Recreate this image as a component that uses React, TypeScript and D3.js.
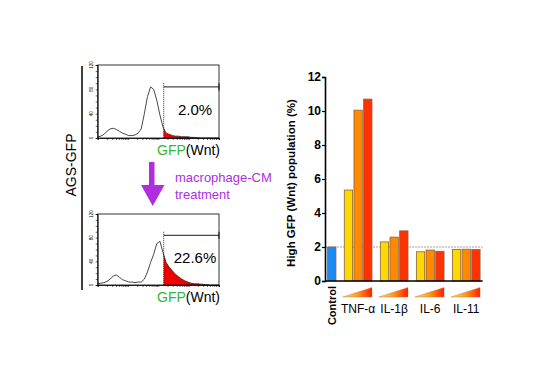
import { useEffect, useRef } from "react";
import * as d3 from "d3";

// flow histograms (count per log-spaced bin, 0-120 scale)
const hist1Counts = [
  2, 3, 6, 11, 15, 16, 14, 11, 8, 6, 4, 4, 5, 8, 15, 40, 68, 84, 80, 62,
  38, 18, 8, 6, 4, 3, 3, 2, 2, 2, 1, 1, 0.5, 0, 0, 0, 0, 0, 0, 0,
];
const hist2Counts = [
  2, 3, 4, 6, 10, 15, 17, 13, 9, 7, 5, 5, 4, 5, 5, 10, 22, 38, 52, 70,
  74, 55, 38, 30, 24, 18, 14, 10, 7, 5, 3, 2, 2, 1.5, 1, 0.5, 0, 0, 0, 0,
];
const histPercents = ["2.0%", "22.6%"];
const gateStart = 150;
const histTicks = [0, 40, 80, 120];

// bar chart
const treatments = ["TNF-α", "IL-1β", "IL-6", "IL-11"];
const controlValue = 2.0;
const doseLow = [5.35, 2.3, 1.72, 1.85];
const doseMid = [10.05, 2.58, 1.82, 1.87];
const doseHigh = [10.7, 2.95, 1.75, 1.85];
const doseColors = ["#ffd800", "#ff8a00", "#ff3300"];
const controlColor = "#1a8cf0";
const yTicks = [0, 2, 4, 6, 8, 10, 12];
const baselineLevel = 2;

const FONT = "Liberation Sans, Arial, sans-serif";
const PURPLE = "#b02ee0";

export default function App() {
  const svgRef = useRef<SVGSVGElement>(null);

  useEffect(() => {
    if (!svgRef.current) return;
    const svg = d3.select(svgRef.current);
    svg.selectAll("*").remove();
    svg.style("font-family", FONT);

    const defs = svg.append("defs");

    // ---------- left panel ----------
    svg.append("line")
      .attr("x1", 82).attr("x2", 82).attr("y1", 66).attr("y2", 290)
      .attr("stroke", "#000").attr("stroke-width", 1.5);

    svg.append("text")
      .attr("transform", "translate(76,165) rotate(-90)")
      .attr("text-anchor", "middle")
      .style("font-size", "14px")
      .text("AGS-GFP");

    const drawHist = (counts: number[], top: number, bottom: number, pct: string, idx: number) => {
      const x = d3.scaleLog().domain([1, 1e4]).range([97.7, 219]);
      const y = d3.scaleLinear().domain([0, 120]).range([bottom, top]);
      const g = svg.append("g");
      const n = counts.length;
      const pts = counts.map((c, i) => [Math.pow(10, (4 * i) / (n - 1)), c] as [number, number]);

      const clipId = `gate-clip-${idx}`;
      defs.append("clipPath").attr("id", clipId)
        .append("rect")
        .attr("x", x(gateStart)).attr("y", top - 5)
        .attr("width", 219 - x(gateStart)).attr("height", bottom - top + 5);

      const area = d3.area<[number, number]>()
        .x((d) => x(d[0])).y0(y(0)).y1((d) => y(d[1]));
      g.append("path")
        .attr("d", area(pts) as string)
        .attr("fill", "#ee0000")
        .attr("clip-path", `url(#${clipId})`);

      const line = d3.line<[number, number]>().x((d) => x(d[0])).y((d) => y(d[1]));
      g.append("path")
        .attr("d", line(pts) as string)
        .attr("fill", "none").attr("stroke", "#333").attr("stroke-width", 0.9);

      // box
      g.append("rect")
        .attr("x", x(1)).attr("y", y(120))
        .attr("width", x(1e4) - x(1)).attr("height", y(0) - y(120))
        .attr("fill", "none").attr("stroke", "#000").attr("stroke-width", 0.8);

      // axes
      const xAxis = g.append("g")
        .attr("transform", `translate(0,${y(0)})`)
        .call(d3.axisBottom(x).tickSize(2).tickFormat(() => ""));
      xAxis.select(".domain").attr("stroke-width", 0.8);
      xAxis.selectAll(".tick line").attr("stroke-width", 0.6);

      const yAxis = g.append("g")
        .attr("transform", `translate(${x(1)},0)`)
        .call(d3.axisLeft(y).tickValues(d3.range(0, 121, 10)).tickSize(2).tickFormat(() => ""));
      yAxis.select(".domain").attr("stroke-width", 0.8);
      yAxis.selectAll(".tick line").attr("stroke-width", 0.6);

      g.selectAll(".ylab")
        .data(histTicks)
        .enter().append("text")
        .attr("transform", (d) => `translate(${x(1) - 5},${y(d)}) rotate(-90)`)
        .attr("text-anchor", "middle")
        .style("font-size", "4.5px")
        .text((d) => d);

      // gate
      const gx = x(gateStart);
      g.append("line")
        .attr("x1", gx).attr("x2", gx).attr("y1", y(90)).attr("y2", y(0))
        .attr("stroke", "#000").attr("stroke-width", 0.8).attr("stroke-dasharray", "1,1");
      g.append("line")
        .attr("x1", gx).attr("x2", x(1e4)).attr("y1", y(84)).attr("y2", y(84))
        .attr("stroke", "#000").attr("stroke-width", 0.9);
      g.append("line")
        .attr("x1", x(1e4)).attr("x2", x(1e4)).attr("y1", y(90)).attr("y2", y(78))
        .attr("stroke", "#000").attr("stroke-width", 0.9);

      g.append("text")
        .attr("x", 195).attr("y", y(84) + 28)
        .attr("text-anchor", "middle")
        .style("font-size", "15px")
        .text(pct);

      const lab = g.append("text")
        .attr("x", 220).attr("y", bottom + 17)
        .attr("text-anchor", "end")
        .style("font-size", "14px");
      lab.append("tspan").attr("fill", "#33b833").text("GFP");
      lab.append("tspan").attr("fill", "#000").text("(Wnt)");
    };

    drawHist(hist1Counts, 65, 138, histPercents[0], 0);
    drawHist(hist2Counts, 214, 285, histPercents[1], 1);

    // arrow
    svg.append("path")
      .attr("d", "M149,162 L154.5,162 L154.5,185 L164.5,185 L152.7,206 L141,185 L149,185 Z")
      .attr("fill", PURPLE);
    const tx = svg.append("text").attr("fill", PURPLE).style("font-size", "13px");
    tx.append("tspan").attr("x", 175).attr("y", 181.5).text("macrophage-CM");
    tx.append("tspan").attr("x", 175).attr("y", 198.5).text("treatment");

    // ---------- bar chart ----------
    const gap = 0.72;
    const lastSlot = treatments.length * 3 + gap * treatments.length;
    const xs = d3.scaleLinear().domain([-0.7, lastSlot + 0.7]).range([325, 482.7]);
    const slotW = xs(1) - xs(0);
    const barW = slotW * 0.86;
    const y = d3.scaleLinear().domain([0, 12]).range([281, 77]);
    const bars = svg.append("g");

    const series = [doseLow, doseMid, doseHigh];
    type Bar = { slot: number; value: number; color: string };
    const barData: Bar[] = [{ slot: 0, value: controlValue, color: controlColor }];
    treatments.forEach((_, gi) => {
      series.forEach((s, di) => {
        barData.push({ slot: 1 + gi * 3 + di + gap * (gi + 1), value: s[gi], color: doseColors[di] });
      });
    });

    // baseline level line
    bars.append("line")
      .attr("x1", xs.range()[0]).attr("x2", xs.range()[1])
      .attr("y1", y(baselineLevel)).attr("y2", y(baselineLevel))
      .attr("stroke", "#999").attr("stroke-width", 0.9).attr("stroke-dasharray", "2,1");

    bars.selectAll(".bar")
      .data(barData)
      .enter().append("rect")
      .attr("class", "bar")
      .attr("x", (d) => xs(d.slot) - barW / 2)
      .attr("y", (d) => y(d.value))
      .attr("width", barW)
      .attr("height", (d) => y(0) - y(d.value))
      .attr("fill", (d) => d.color)
      .attr("stroke", "#8a6040")
      .attr("stroke-width", 0.8);

    // axes
    const yAxis = svg.append("g")
      .attr("transform", `translate(325,0)`)
      .call(d3.axisLeft(y).tickValues(yTicks).tickSize(3).tickPadding(1));
    yAxis.select(".domain").attr("stroke-width", 1.6);
    yAxis.selectAll(".tick line").attr("stroke-width", 1.2);
    yAxis.selectAll("text")
      .style("font-size", "12px").style("font-weight", "bold").style("font-family", FONT);

    svg.append("line")
      .attr("x1", 325).attr("x2", xs.range()[1]).attr("y1", y(0)).attr("y2", y(0))
      .attr("stroke", "#000").attr("stroke-width", 1.6);

    svg.append("text")
      .attr("transform", `translate(295,${(y(0) + y(12)) / 2 + 4}) rotate(-90)`)
      .attr("text-anchor", "middle")
      .style("font-size", "11.5px").style("font-weight", "bold")
      .text("High GFP (Wnt) population (%)");

    svg.append("text")
      .attr("transform", `translate(${xs(0) + 4},286) rotate(-90)`)
      .attr("text-anchor", "end")
      .style("font-size", "11px").style("font-weight", "bold")
      .text("Control");

    // dose wedges
    const grad = defs.append("linearGradient").attr("id", "dose-grad")
      .attr("x1", "0").attr("x2", "1").attr("y1", "0").attr("y2", "0");
    grad.append("stop").attr("offset", "0").attr("stop-color", "#f8dc80");
    grad.append("stop").attr("offset", "0.5").attr("stop-color", "#ff9a20");
    grad.append("stop").attr("offset", "1").attr("stop-color", "#ff1e00");

    treatments.forEach((t, gi) => {
      const s0 = 1 + gi * 3 + gap * (gi + 1);
      const left = xs(s0) - barW / 2 - 1.5;
      const right = xs(s0 + 2) + barW / 2;
      svg.append("path")
        .attr("d", `M${left},297 L${right},297 L${right},287.5 Z`)
        .attr("fill", "url(#dose-grad)")
        .attr("stroke", "#c07030").attr("stroke-width", 0.4);
      svg.append("text")
        .attr("x", xs(s0 + 1)).attr("y", 313)
        .attr("text-anchor", "middle")
        .style("font-size", "12px")
        .text(t);
    });
  }, []);

  return (
    <svg
      ref={svgRef}
      width={550}
      height={389}
      style={{ position: "absolute", left: 0, top: 0, background: "#fff" }}
    />
  );
}
